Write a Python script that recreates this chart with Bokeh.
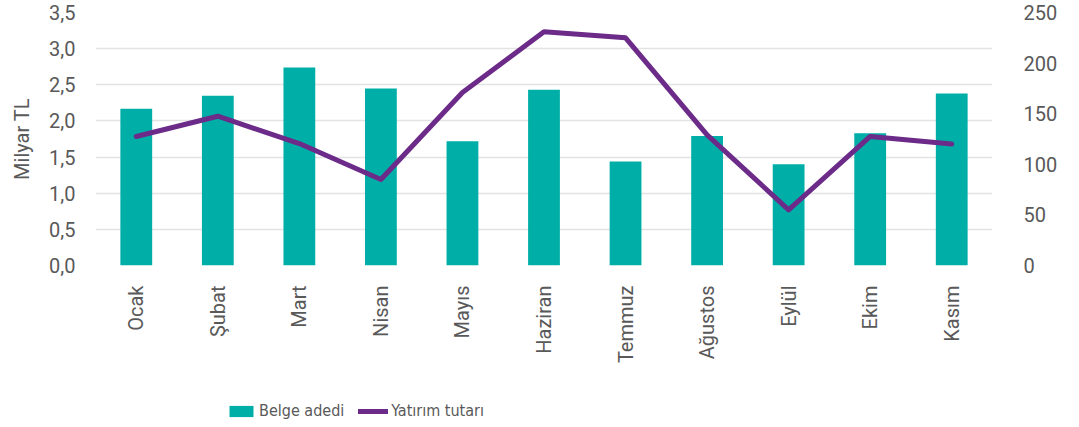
import math
from bokeh.plotting import figure
from bokeh.layouts import column
from bokeh.models import (FactorRange, Range1d, LinearAxis, FixedTicker, CustomJSTickFormatter,
                          Legend, LegendItem, ColumnDataSource)
from bokeh.embed import file_html
from bokeh.resources import INLINE

months = ["Ocak", "Şubat", "Mart", "Nisan", "Mayıs", "Haziran", "Temmuz", "Ağustos", "Eylül", "Ekim", "Kasım"]
belge_adedi = [2.17, 2.35, 2.74, 2.45, 1.72, 2.43, 1.44, 1.79, 1.40, 1.83, 2.38]
yatirim_tutari = [127.5, 147.5, 120.5, 85, 171, 231, 225, 129, 55, 127.5, 120]
left_ticks = [0, 0.5, 1.0, 1.5, 2.0, 2.5, 3.0, 3.5]
right_ticks = [0, 50, 100, 150, 200, 250]
series_names = ["Belge adedi", "Yatırım tutarı"]

FONT = "Roboto"
GRAY = "#595959"
TEAL = "#00AEA8"
PURPLE = "#6C2B88"

W, H1, H2 = 1071, 371, 50
src = ColumnDataSource(dict(m=months, b=belge_adedi, y=yatirim_tutari))

p = figure(x_range=FactorRange(*months, range_padding=0), y_range=Range1d(0, 3.5),
           width=W, height=H1, output_backend="svg", toolbar_location=None,
           min_border_left=95, min_border_right=W - 992, min_border_top=12,
           min_border_bottom=H1 - 265)
p.outline_line_color = None
p.extra_y_ranges = {"r": Range1d(0, 250)}

p.vbar(x="m", top="b", width=0.39, source=src, color=TEAL, line_color=None)
p.line(x="m", y="y", source=src, y_range_name="r", line_color=PURPLE,
       line_width=5, line_cap="round", line_join="round")

def style_axis(ax):
    ax.axis_line_color = None
    ax.major_tick_line_color = None
    ax.minor_tick_line_color = None
    ax.major_label_text_font = FONT
    ax.major_label_text_font_size = "20px"
    ax.major_label_text_color = GRAY

la = p.yaxis[0]
style_axis(la)
la.ticker = FixedTicker(ticks=left_ticks)
la.formatter = CustomJSTickFormatter(code="return tick.toFixed(1).replace('.', ',');")
la.major_label_standoff = 14
la.axis_label = "Milyar TL"
la.axis_label_text_font = FONT
la.axis_label_text_font_size = "20px"
la.axis_label_text_font_style = "normal"
la.axis_label_text_color = GRAY
la.axis_label_standoff = 12

ra = LinearAxis(y_range_name="r", ticker=FixedTicker(ticks=right_ticks))
style_axis(ra)
ra.major_label_standoff = 25
p.add_layout(ra, "right")

xa = p.xaxis[0]
style_axis(xa)
xa.major_label_orientation = math.pi / 2
xa.major_label_standoff = 14

p.xgrid.grid_line_color = None
p.ygrid.grid_line_color = "#E3E3E3"
p.ygrid.grid_line_width = 1.5
p.ygrid.ticker = FixedTicker(ticks=left_ticks)

# legend strip below the chart (its renderers draw nothing visible)
q = figure(width=W, height=H2, x_range=Range1d(0, 1), y_range=Range1d(0, 1),
           output_backend="svg", toolbar_location=None,
           x_axis_location=None, y_axis_location=None, min_border=0)
q.outline_line_color = None
q.grid.grid_line_color = None
rb = q.vbar(x=[0.5], top=[0], bottom=[0], width=0.0, color=TEAL, line_color=None)
rl = q.line(x=[5, 6], y=[5, 6], line_color=PURPLE, line_width=5, line_cap="round")
legend = Legend(items=[LegendItem(label=series_names[0], renderers=[rb]),
                       LegendItem(label=series_names[1], renderers=[rl])],
                orientation="horizontal", location=(131, 1), padding=0, margin=0,
                spacing=14, label_standoff=3, glyph_width=30, glyph_height=14,
                label_text_font="'DejaVu Sans Condensed', Roboto", label_text_font_size="16px",
                label_text_color=GRAY, background_fill_alpha=0, border_line_alpha=0)
q.add_layout(legend, "center")

layout = column(p, q, spacing=0)
open("out.html", "w").write(file_html(layout, INLINE))
